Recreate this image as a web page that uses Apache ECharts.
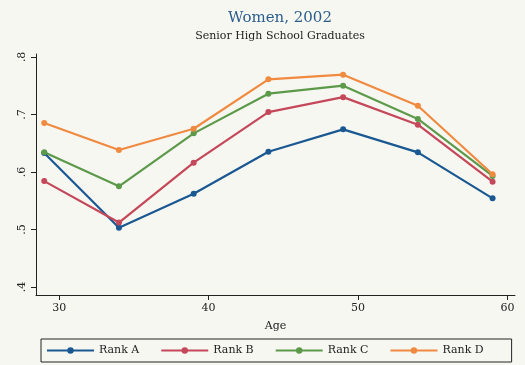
<!DOCTYPE html>
<html>
<head>
<meta charset="utf-8">
<script src="https://cdn.jsdelivr.net/npm/echarts@6/dist/echarts.min.js"></script>
<style>
  html, body { margin: 0; padding: 0; background: #f7f7f2; }
  #chart { width: 525px; height: 365px; }
</style>
</head>
<body>
<div id="chart"></div>
<script>
// Ages at which each group is observed
const ages = [29, 34, 39, 44, 49, 54, 59];

// Share by age for each rank
const rankA = [0.633, 0.503, 0.562, 0.635, 0.674, 0.634, 0.554];
const rankB = [0.584, 0.512, 0.616, 0.704, 0.730, 0.682, 0.583];
const rankC = [0.634, 0.575, 0.667, 0.736, 0.750, 0.692, 0.593];
const rankD = [0.685, 0.638, 0.675, 0.761, 0.769, 0.715, 0.596];

const seriesNames = ['Rank A', 'Rank B', 'Rank C', 'Rank D'];
const xTicks = [30, 40, 50, 60];
const yTicks = [0.4, 0.5, 0.6, 0.7, 0.8];

const colors = ['#1a5892', '#c4475a', '#5c9a4a', '#f08a40'];
const font = 'DejaVu Serif';

const pairs = vals => ages.map((a, i) => [a, vals[i]]);

const chart = echarts.init(document.getElementById('chart'), null, { renderer: 'canvas' });
chart.setOption({
  backgroundColor: '#f7f7f2',
  animation: false,
  color: colors,
  textStyle: { fontFamily: font },
  title: {
    text: 'Women, 2002',
    subtext: 'Senior High School Graduates',
    left: 275, top: 6, textAlign: 'center',
    itemGap: 5,
    textStyle: { fontFamily: font, fontSize: 15, fontWeight: 'normal', color: '#2b5d8c' },
    subtextStyle: { fontFamily: font, fontSize: 11, color: '#222' }
  },
  grid: { left: 36, right: 10, top: 54, bottom: 70 },
  xAxis: {
    type: 'value', min: 28.45, max: 60.5,
    name: 'Age', nameLocation: 'middle', nameGap: 26,
    nameTextStyle: { fontFamily: font, fontSize: 11, color: '#222' },
    splitLine: { show: false },
    axisLine: { show: true, onZero: false, lineStyle: { color: '#222', width: 1 } },
    axisTick: { show: true, length: 5, customValues: xTicks, lineStyle: { color: '#222' } },
    axisLabel: { customValues: xTicks, fontFamily: font, fontSize: 11, color: '#222', margin: 8 }
  },
  yAxis: {
    type: 'value', min: 0.386, max: 0.805,
    splitLine: { show: false },
    axisLine: { show: true, onZero: false, lineStyle: { color: '#222', width: 1 } },
    axisTick: { show: true, length: 5, customValues: yTicks, lineStyle: { color: '#222' } },
    axisLabel: {
      customValues: yTicks, rotate: 90, fontFamily: font, fontSize: 11, color: '#222', margin: 8,
      formatter: v => v.toFixed(1).replace(/^0/, '')
    }
  },
  legend: {
    left: 41, top: 339,
    data: seriesNames,
    itemWidth: 47, itemHeight: 8, itemGap: 21,
    padding: [6, 28, 6, 5],
    borderColor: '#222', borderWidth: 1,
    textStyle: { fontFamily: font, fontSize: 11, color: '#222' }
  },
  series: [rankA, rankB, rankC, rankD].map((vals, i) => ({
    name: seriesNames[i],
    type: 'line',
    data: pairs(vals),
    symbol: 'circle', symbolSize: 6,
    lineStyle: { width: 2.2 },
    itemStyle: { color: colors[i] }
  }))
});
</script>
</body>
</html>
